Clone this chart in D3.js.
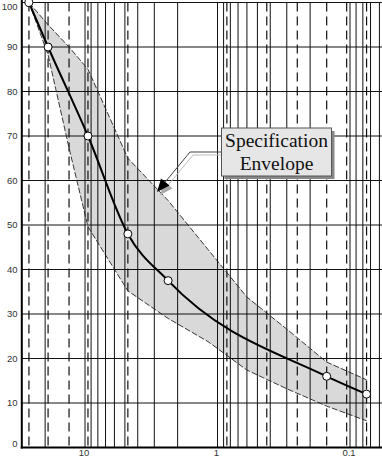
<!DOCTYPE html>
<html><head><meta charset="utf-8">
<script src="https://cdn.jsdelivr.net/npm/d3@7"></script>
<style>html,body{margin:0;padding:0;background:#fff;overflow:hidden}svg{display:block}</style>
</head><body><svg id="c" width="382" height="459"></svg>
<script>
// ---- data ----
const sieveSizes = [26.5, 19, 9.5, 4.75, 2.36, 0.15, 0.075];      // mm
const percentPassing = [100, 90, 70, 48, 37.5, 16, 12];
const envelopeSizes = [26.5, 19, 13.2, 9.5, 4.75, 2.36, 1.18, 0.6, 0.3, 0.15, 0.075];
const envelopeUpper = [100, 95, 90, 85, 65, 55.5, 44.5, 33.8, 26.6, 19.2, 15.2];
const envelopeLower = [100, 88.2, 67.3, 49.6, 35.2, 29, 23.8, 17.4, 13.2, 9.3, 6];
const gridSolid = [20, 10, 9, 8, 7, 6, 5, 4, 3, 2, 1, 0.9, 0.8, 0.7, 0.6, 0.5, 0.4, 0.3, 0.2, 0.1, 0.09, 0.08, 0.07, 0.06];
const gridDashed = [26.5, 19, 13.2, 9.5, 4.75, 0.85, 0.425, 0.25, 0.15, 0.106, 0.075];
const yTicks = [0, 10, 20, 30, 40, 50, 60, 70, 80, 90, 100];
const xTickLabels = [10, 1, 0.1];
const annotationLines = ["Specification", "Envelope"];

// ---- scales ----
const x = d3.scaleLog().domain([30, 0.05]).range([21.8, 389.9]);
const y = d3.scaleLinear().domain([0, 100]).range([447.5, 2.5]);
const svg = d3.select("#c");

// envelope fill
const env = envelopeSizes.map((s, i) => ({s, u: envelopeUpper[i], l: envelopeLower[i]}));
svg.append("path").datum(env)
  .attr("fill", "#d9d9d9")
  .attr("d", d3.area().x(d => x(d.s)).y0(d => y(d.l)).y1(d => y(d.u)));

// grid
const gridColor = "#111";
svg.append("g").selectAll("line").data(yTicks.filter(v => v > 0)).join("line")
  .attr("x1", x(30)).attr("x2", 382).attr("y1", d => y(d)).attr("y2", d => y(d))
  .attr("stroke", gridColor).attr("stroke-width", 1);
svg.append("g").selectAll("line").data(gridSolid).join("line")
  .attr("x1", d => x(d)).attr("x2", d => x(d)).attr("y1", y(100)).attr("y2", y(0))
  .attr("stroke", gridColor).attr("stroke-width", 1);
svg.append("g").selectAll("line").data(gridDashed).join("line")
  .attr("x1", d => x(d)).attr("x2", d => x(d)).attr("y1", y(100)).attr("y2", y(0))
  .attr("stroke", gridColor).attr("stroke-width", 1.2).attr("stroke-dasharray", "9,5");

// envelope borders
["u", "l"].forEach(k => {
  svg.append("path").datum(env)
    .attr("fill", "none").attr("stroke", "#222").attr("stroke-width", 0.9)
    .attr("stroke-dasharray", "6,2")
    .attr("d", d3.line().x(d => x(d.s)).y(d => y(d[k])));
});

// axes
svg.append("line").attr("x1", x(30)).attr("x2", x(30)).attr("y1", 0).attr("y2", y(0) + 1)
  .attr("stroke", "#000").attr("stroke-width", 2);
svg.append("line").attr("x1", x(30) - 1).attr("x2", 382).attr("y1", y(0)).attr("y2", y(0))
  .attr("stroke", "#000").attr("stroke-width", 2);

// y labels
svg.append("g").selectAll("text").data(yTicks).join("text")
  .attr("x", 17.5)
  .attr("y", d => d === 100 ? y(d) + 4.5 : d === 0 ? y(d) - 3.5 : y(d))
  .attr("dy", "0.35em").attr("text-anchor", "end")
  .attr("font-family", "Liberation Sans, Arial, sans-serif").attr("font-size", 9.5)
  .attr("fill", "#333").text(d => d);

// x labels
svg.append("g").selectAll("text").data(xTickLabels).join("text")
  .attr("x", d => x(d) - 1).attr("y", 456)
  .attr("text-anchor", "middle")
  .attr("font-family", "Liberation Sans, Arial, sans-serif").attr("font-size", 9.5)
  .attr("fill", "#333").text(d => d);

// main curve
const pts = sieveSizes.map((s, i) => ({s, p: percentPassing[i]}));
svg.append("path").datum(pts)
  .attr("fill", "none").attr("stroke", "#000").attr("stroke-width", 2)
  .attr("d", d3.line().curve(d3.curveMonotoneX).x(d => x(d.s)).y(d => y(d.p)));
svg.append("g").selectAll("circle").data(pts).join("circle")
  .attr("cx", d => x(d.s)).attr("cy", d => y(d.p)).attr("r", 4)
  .attr("fill", "#fff").attr("stroke", "#000").attr("stroke-width", 1);

// annotation
const box = {x: 221.5, y: 128, w: 110, h: 48};
const lead = [[box.x, 152], [190, 152], [157, 192]];
const tip = lead[2], from = lead[1];
const dx = tip[0] - from[0], dy = tip[1] - from[1], len = Math.hypot(dx, dy);
const ux = dx / len, uy = dy / len, L = 13, W = 5.5;
const bx = tip[0] - ux * L, by = tip[1] - uy * L;
const head = [[tip[0], tip[1]], [bx - uy * W, by + ux * W], [bx + uy * W, by - ux * W]];
const sh = 3;
const ann = svg.append("g");
ann.append("polyline").attr("points", lead.slice(0, 2).concat([[bx, by]]).map(p => [p[0] + sh, p[1] + sh]).join(" "))
  .attr("fill", "none").attr("stroke", "#bbb").attr("stroke-width", 1);
ann.append("polygon").attr("points", head.map(p => [p[0] + sh, p[1] + sh]).join(" ")).attr("fill", "#aaa");
ann.append("polyline").attr("points", lead.slice(0, 2).concat([[bx, by]]).join(" "))
  .attr("fill", "none").attr("stroke", "#444").attr("stroke-width", 1);
ann.append("polygon").attr("points", head.join(" ")).attr("fill", "#000");
ann.append("rect").attr("x", box.x + sh).attr("y", box.y + sh).attr("width", box.w).attr("height", box.h).attr("fill", "#888");
ann.append("rect").attr("x", box.x).attr("y", box.y).attr("width", box.w).attr("height", box.h)
  .attr("fill", "#e6e6e6").attr("stroke", "#555").attr("stroke-width", 1);
ann.selectAll("text").data(annotationLines).join("text")
  .attr("x", box.x + box.w / 2).attr("y", (d, i) => 147 + i * 23)
  .attr("text-anchor", "middle")
  .attr("font-family", "Liberation Serif, Times New Roman, serif").attr("font-size", 19.5)
  .attr("fill", "#111").text(d => d);
</script></body></html>
